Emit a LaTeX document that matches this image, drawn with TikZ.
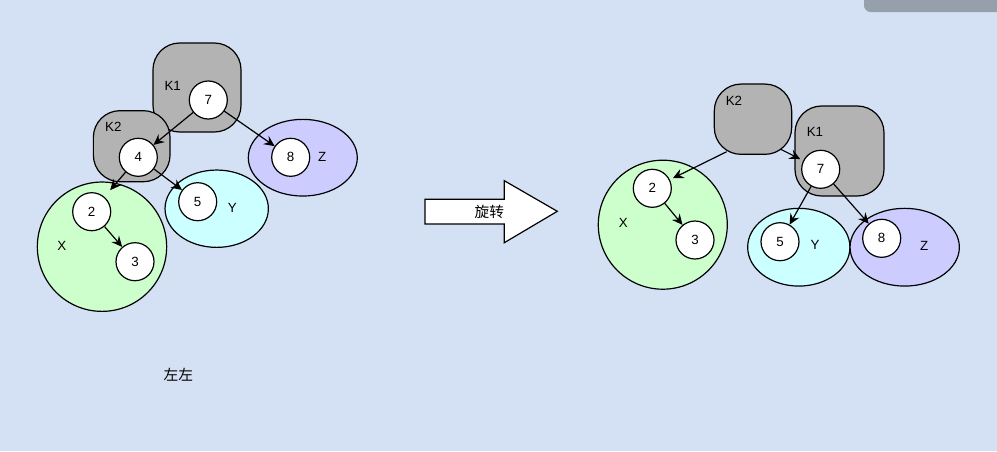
\documentclass[tikz,border=0pt]{standalone}
\usepackage{fontspec}
\setmainfont{Liberation Sans}
\newfontfamily\cjk{Noto Sans CJK SC}
\usetikzlibrary{shapes.geometric,arrows.meta,calc}
\definecolor{bgblue}{RGB}{212,225,245}
\definecolor{boxgray}{RGB}{179,179,179}
\definecolor{xgreen}{RGB}{204,255,204}
\definecolor{ycyan}{RGB}{204,255,255}
\definecolor{zlilac}{RGB}{204,204,255}
\definecolor{bargray}{RGB}{150,159,172}

\begin{document}
\begin{tikzpicture}[x=0.75pt, y=-0.75pt, font=\fontsize{10}{12}\selectfont,
    line width=0.9pt, >={Stealth[length=8pt,width=7.5pt,inset=2.8pt]},
    key/.style={circle, draw, fill=white, minimum size=28.5pt, inner sep=0pt},
    grp/.style={draw, fill=boxgray, rounded corners=20pt, inner sep=0pt},
    blob/.style={ellipse, draw, inner sep=0pt}]
    % page
    \fill[bgblue] (0,0) rectangle (997,451);
    \useasboundingbox (0,0) rectangle (997,451);
    \fill[bargray, rounded corners=5pt] (864,-10) rectangle (1010,12);

    % Left tree
    \node[grp, minimum width=66pt, minimum height=66.75pt] (k1) at (197,87.5) {};
    \node[grp, minimum width=57.5pt, minimum height=53.3pt] (k2) at (131.7,146.2) {};
    \node[blob, fill=zlilac, minimum width=81.75pt, minimum height=57.5pt] (z) at (302.8,157.7) {};
    \node[blob, fill=ycyan, minimum width=77.5pt, minimum height=58pt] (y) at (216.7,208.7) {};
    \node[blob, fill=xgreen, minimum width=97pt, minimum height=97pt] (x) at (102,246.7) {};
    \node (k1lbl) at (172.7,86) {K1};
    \node (k2lbl) at (113.3,127.3) {K2};
    \node (zlbl) at (322.3,157.3) {Z};
    \node (ylbl) at (232.3,208.3) {Y};
    \node (xlbl) at (61.7,246) {X};
    \node[key] (seven) at (208.3,100) {7};
    \node[key] (four) at (138.3,157.3) {4};
    \node[key] (eight) at (290.7,157.3) {8};
    \node[key] (five) at (197.7,201.7) {5};
    \node[key] (two) at (91.7,211.7) {2};
    \node[key] (three) at (135,261.7) {3};

    \draw[->] (seven) -- (four);
    \draw[->] (seven) -- (eight);
    \draw[->, shorten >=6.6pt] (four) -- (two);
    \draw[->] (four) -- (five);
    \draw[->] (two) -- (three);

    \node[font=\cjk\fontsize{11}{13}\selectfont] (leftleft) at (178.3,375) {左左};

    % Rotation arrow
    \draw[fill=white] (425,199.3) -- (504.3,199.3) -- (504.3,180.7) -- (557.3,211.3)
        -- (504.3,242.7) -- (504.3,224) -- (425,224) -- cycle;
    \node[font=\cjk\fontsize{11}{13}\selectfont] (rotate) at (489.3,211.7) {旋转};

    % Right tree
    \node[grp, minimum width=58pt, minimum height=52.7pt] (k2r) at (753,119.2) {};
    \node[grp, minimum width=66.75pt, minimum height=67.5pt] (k1r) at (839.5,151) {};
    \node[blob, fill=xgreen, minimum width=96.75pt, minimum height=96.75pt] (xr) at (662.8,224.7) {};
    \node[blob, fill=ycyan, minimum width=76.7pt, minimum height=58.3pt] (yr) at (798.8,247.2) {};
    \node[blob, fill=zlilac, minimum width=82pt, minimum height=58.3pt] (zr) at (904.7,247.2) {};
    \node (k2rlbl) at (734,100.7) {K2};
    \node (k1rlbl) at (815,131.7) {K1};
    \node (xrlbl) at (623.3,223.3) {X};
    \node (yrlbl) at (815,245) {Y};
    \node (zrlbl) at (924.3,246) {Z};
    \node[key] (sevenr) at (820.7,169.3) {7};
    \node[key] (twor) at (652.3,188.3) {2};
    \node[key] (threer) at (695,240) {3};
    \node[key] (fiver) at (780,241.7) {5};
    \node[key] (eightr) at (881.7,238.3) {8};

    \draw[->, shorten >=2.5pt] ($(k2r)+(-26.3,32.5)$) -- (twor);
    \draw[->, shorten >=2.5pt] ($(k2r)+(27.7,30.1)$) -- (sevenr);
    \draw[->] (sevenr) -- (fiver);
    \draw[->] (sevenr) -- (eightr);
    \draw[->] (twor) -- (threer);
\end{tikzpicture}
\end{document}
